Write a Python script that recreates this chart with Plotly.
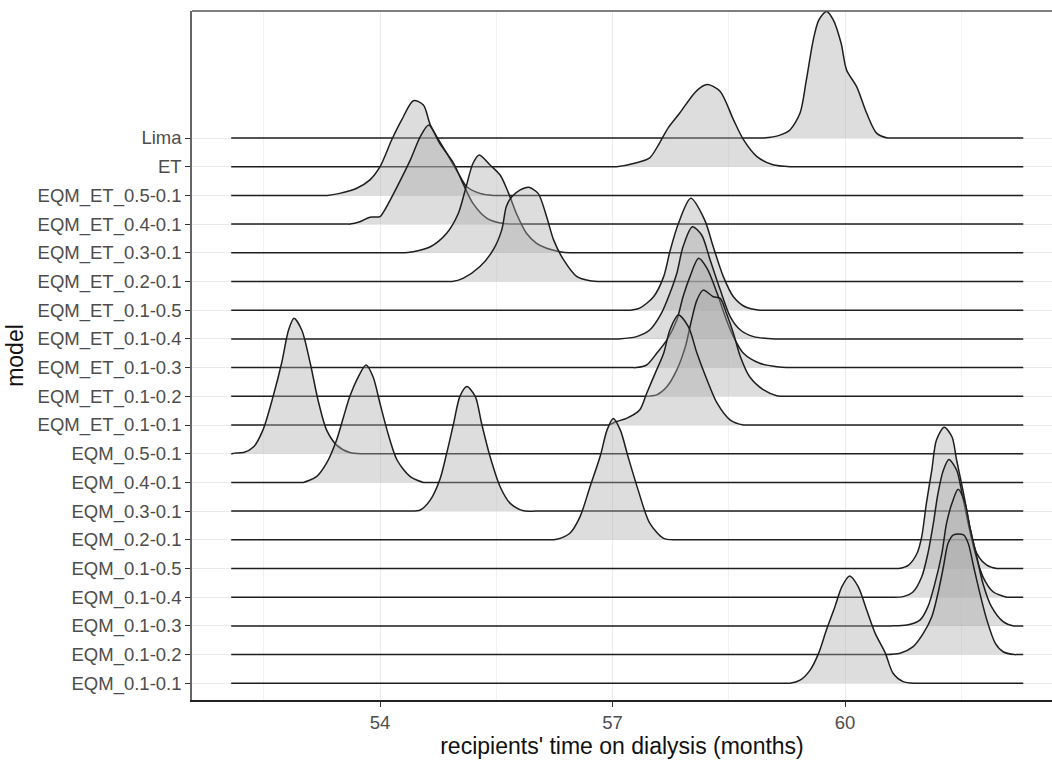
import plotly.graph_objects as go

# ---------------- data ----------------
# model names, top row first
models = ["Lima", "ET", "EQM_ET_0.5-0.1", "EQM_ET_0.4-0.1", "EQM_ET_0.3-0.1",
          "EQM_ET_0.2-0.1", "EQM_ET_0.1-0.5", "EQM_ET_0.1-0.4", "EQM_ET_0.1-0.3",
          "EQM_ET_0.1-0.2", "EQM_ET_0.1-0.1", "EQM_0.5-0.1", "EQM_0.4-0.1",
          "EQM_0.3-0.1", "EQM_0.2-0.1", "EQM_0.1-0.5", "EQM_0.1-0.4",
          "EQM_0.1-0.3", "EQM_0.1-0.2", "EQM_0.1-0.1"]

# common range of the density lines (months)
X_MIN = 52.08
X_MAX = 62.30

# density heights (in units of row spacing) at x positions (months)
lima_x = [58.95, 59.16, 59.29, 59.42, 59.50, 59.59, 59.66, 59.76, 59.85, 59.95, 60.02, 60.15, 60.28, 60.41, 60.55]
lima_h = [0, 0.10, 0.28, 0.87, 2.0, 3.41, 4.10, 4.41, 4.11, 3.3, 2.37, 1.79, 0.86, 0.16, 0]

et_x = [57.05, 57.31, 57.48, 57.61, 57.72, 57.87, 58.04, 58.13, 58.23, 58.39, 58.56, 58.69, 58.86, 59.07, 59.30]
et_h = [0, 0.14, 0.31, 0.84, 1.36, 1.88, 2.51, 2.75, 2.86, 2.62, 1.64, 0.94, 0.36, 0.07, 0]

et05_x = [53.32, 53.48, 53.70, 53.87, 54.00, 54.15, 54.28, 54.43, 54.56, 54.65, 54.86, 55.01, 55.12, 55.29, 55.46]
et05_h = [0, 0.07, 0.25, 0.54, 1.00, 1.93, 2.63, 3.30, 3.15, 2.45, 1.47, 0.77, 0.30, 0.07, 0]

et04_x = [53.61, 53.74, 53.87, 54.00, 54.06, 54.22, 54.39, 54.52, 54.63, 54.77, 54.95, 55.07, 55.20, 55.38, 55.59, 55.75]
et04_h = [0, 0.08, 0.24, 0.26, 0.49, 1.30, 2.23, 3.05, 3.45, 2.81, 2.12, 1.42, 0.72, 0.20, 0.02, 0]

et03_x = [54.26, 54.43, 54.65, 54.86, 55.01, 55.10, 55.20, 55.28, 55.42, 55.55, 55.66, 55.76, 55.89, 56.02, 56.15, 56.32, 56.45]
et03_h = [0, 0.04, 0.21, 0.68, 1.37, 2.19, 3.12, 3.41, 3.06, 2.71, 2.07, 1.37, 0.68, 0.33, 0.16, 0.04, 0]

et02_x = [54.93, 55.07, 55.29, 55.46, 55.57, 55.63, 55.70, 55.81, 55.92, 56.04, 56.15, 56.24, 56.37, 56.54, 56.71, 56.88]
et02_h = [0, 0.11, 0.52, 1.10, 1.79, 2.61, 2.95, 3.19, 3.28, 3.07, 2.26, 1.45, 0.75, 0.17, 0.03, 0]

et15_x = [57.23, 57.35, 57.53, 57.66, 57.74, 57.85, 58.01, 58.19, 58.30, 58.43, 58.56, 58.71, 58.90]
et15_h = [0, 0.07, 0.47, 1.17, 2.04, 3.02, 3.90, 3.14, 2.21, 1.17, 0.47, 0.12, 0]

et14_x = [57.08, 57.31, 57.48, 57.63, 57.74, 57.83, 57.91, 58.03, 58.15, 58.26, 58.39, 58.52, 58.65, 58.82, 59.10]
et14_h = [0, 0.08, 0.31, 0.89, 1.59, 2.29, 3.21, 3.91, 3.62, 2.75, 1.71, 0.77, 0.31, 0.08, 0]

et13_x = [57.30, 57.44, 57.57, 57.70, 57.83, 57.91, 58.00, 58.11, 58.22, 58.35, 58.47, 58.56, 58.69, 58.90, 59.12, 59.30]
et13_h = [0, 0.09, 0.50, 0.96, 1.66, 2.47, 3.17, 3.81, 3.46, 2.59, 1.66, 1.08, 0.50, 0.15, 0.03, 0]

et12_x = [57.40, 57.57, 57.70, 57.83, 57.94, 58.02, 58.09, 58.17, 58.30, 58.39, 58.47, 58.56, 58.65, 58.77, 58.95, 59.12, 59.30]
et12_h = [0, 0.05, 0.33, 0.92, 1.73, 2.66, 3.36, 3.70, 3.47, 3.41, 2.89, 2.20, 1.38, 0.68, 0.22, 0.02, 0]

et11_x = [56.95, 57.05, 57.18, 57.35, 57.44, 57.55, 57.66, 57.74, 57.85, 57.98, 58.09, 58.22, 58.35, 58.52, 58.69]
et11_h = [0, 0.12, 0.23, 0.52, 1.10, 1.80, 2.50, 3.31, 3.83, 3.42, 2.50, 1.57, 0.76, 0.17, 0]

eqm05_x = [52.12, 52.24, 52.37, 52.49, 52.62, 52.73, 52.82, 52.89, 52.99, 53.10, 53.20, 53.31, 53.44, 53.61, 53.77]
eqm05_h = [0.02, 0.04, 0.24, 0.83, 1.99, 3.15, 4.31, 4.72, 4.31, 3.15, 1.87, 0.83, 0.30, 0.04, 0]

eqm04_x = [53.01, 53.18, 53.31, 53.44, 53.53, 53.61, 53.72, 53.82, 53.91, 54.00, 54.09, 54.22, 54.39, 54.56]
eqm04_h = [0, 0.20, 0.67, 1.48, 2.29, 2.99, 3.68, 4.09, 3.68, 2.75, 1.83, 0.78, 0.20, 0]

eqm03_x = [54.39, 54.52, 54.65, 54.77, 54.86, 54.95, 55.03, 55.12, 55.23, 55.31, 55.42, 55.55, 55.68, 55.85, 56.00]
eqm03_h = [0, 0.04, 0.39, 1.08, 2.01, 3.06, 3.99, 4.34, 3.99, 3.06, 1.90, 0.85, 0.27, 0.01, 0]

eqm02_x = [56.15, 56.28, 56.45, 56.58, 56.71, 56.84, 56.93, 57.01, 57.10, 57.20, 57.33, 57.48, 57.66, 57.80]
eqm02_h = [0, 0.02, 0.23, 0.80, 1.85, 2.90, 3.83, 4.23, 3.83, 2.90, 1.74, 0.58, 0.05, 0]

eqm15_x = [60.69, 60.82, 60.93, 60.99, 61.05, 61.12, 61.18, 61.28, 61.38, 61.44, 61.53, 61.61, 61.70, 61.83, 61.96]
eqm15_h = [0, 0.12, 0.53, 1.11, 2.27, 3.43, 4.48, 4.92, 4.59, 3.78, 2.62, 1.46, 0.53, 0.12, 0]

eqm14_x = [60.60, 60.75, 60.88, 60.99, 61.07, 61.14, 61.20, 61.27, 61.34, 61.44, 61.51, 61.59, 61.68, 61.78, 61.91, 62.09]
eqm14_h = [0, 0.02, 0.19, 0.71, 1.53, 2.57, 3.62, 4.43, 4.80, 4.43, 3.62, 2.57, 1.53, 0.71, 0.19, 0]

eqm13_x = [60.60, 60.80, 60.97, 61.07, 61.16, 61.25, 61.31, 61.38, 61.46, 61.55, 61.61, 61.70, 61.78, 61.89, 62.04, 62.18]
eqm13_h = [0, 0.03, 0.21, 0.67, 1.48, 2.53, 3.57, 4.27, 4.76, 4.27, 3.46, 2.41, 1.48, 0.67, 0.15, 0]

eqm12_x = [60.50, 60.71, 60.88, 61.01, 61.12, 61.20, 61.27, 61.33, 61.40, 61.53, 61.59, 61.66, 61.74, 61.83, 61.94, 62.04, 62.19]
eqm12_h = [0, 0.05, 0.28, 0.74, 1.32, 2.14, 3.06, 3.88, 4.17, 4.17, 3.88, 3.06, 2.14, 1.21, 0.39, 0.10, 0]

eqm11_x = [59.29, 59.42, 59.55, 59.66, 59.76, 59.87, 59.96, 60.06, 60.17, 60.28, 60.39, 60.52, 60.62, 60.75, 60.90]
eqm11_h = [0, 0.11, 0.46, 1.05, 1.86, 2.67, 3.37, 3.74, 3.37, 2.55, 1.74, 1.05, 0.35, 0.06, 0]

x_ticks = [54, 57, 60]
x_minor = [52.5, 55.5, 58.5, 61.5]

curves = [(lima_x, lima_h), (et_x, et_h), (et05_x, et05_h), (et04_x, et04_h),
          (et03_x, et03_h), (et02_x, et02_h), (et15_x, et15_h), (et14_x, et14_h),
          (et13_x, et13_h), (et12_x, et12_h), (et11_x, et11_h), (eqm05_x, eqm05_h),
          (eqm04_x, eqm04_h), (eqm03_x, eqm03_h), (eqm02_x, eqm02_h), (eqm15_x, eqm15_h),
          (eqm14_x, eqm14_h), (eqm13_x, eqm13_h), (eqm12_x, eqm12_h), (eqm11_x, eqm11_h)]

# ---------------- figure ----------------
n = len(models)
positions = [n - i for i in range(n)]  # Lima at top
PAD = 0.03  # flat joint so the spline stays on the baseline

fig = go.Figure()
for name, pos, (cx, ch) in zip(models, positions, curves):
    xs, hs = [X_MIN], [0.0]
    if cx[0] - PAD > X_MIN:
        xs.append(cx[0] - PAD); hs.append(0.0)
    xs += list(cx); hs += list(ch)
    if cx[-1] + PAD < X_MAX:
        xs.append(cx[-1] + PAD); hs.append(0.0)
    if cx[-1] < X_MAX:
        xs.append(X_MAX); hs.append(0.0)
    ys = [pos + h for h in hs]
    fig.add_trace(go.Scatter(
        x=xs, y=ys, mode="lines", name=name,
        line=dict(color="#1e1e1e", width=1.5, shape="spline", smoothing=0.8),
        fill="toself", fillcolor="rgba(170,170,170,0.40)",
        hoverinfo="skip", showlegend=False))

FONT = "Liberation Sans, Arial, sans-serif"

fig.update_layout(
    width=1052, height=761,
    margin=dict(l=192, r=0, t=11, b=61),
    paper_bgcolor="white", plot_bgcolor="white",
    font=dict(family=FONT, color="#4d4d4d", size=18.5),
    showlegend=False,
)

fig.update_xaxes(
    range=[51.574, 62.671],
    tickvals=x_ticks, ticktext=[str(v) for v in x_ticks],
    showgrid=True, gridcolor="#ebebeb", gridwidth=1.3,
    minor=dict(tickvals=x_minor, showgrid=True, gridcolor="#f2f2f2", gridwidth=1, ticks=""),
    zeroline=False,
    showline=True, linecolor="#222222", linewidth=1.5,
    ticks="outside", ticklen=5, tickwidth=1, tickcolor="#333333",
    tickfont=dict(family=FONT, size=18.5, color="#4d4d4d"),
    title=dict(text="recipients' time on dialysis (months)",
               font=dict(family=FONT, size=23, color="#111111"), standoff=6),
    automargin=False,
)

fig.update_yaxes(
    range=[0.418, 24.425],
    tickvals=positions, ticktext=models,
    showgrid=True, gridcolor="#ebebeb", gridwidth=1.3,
    zeroline=False,
    showline=True, linecolor="#666666", linewidth=1.5,
    ticks="outside", ticklen=5, tickwidth=1, tickcolor="#333333",
    tickfont=dict(family=FONT, size=18.5, color="#4d4d4d"),
    title=dict(text="model", font=dict(family=FONT, size=23, color="#111111"), standoff=8),
    automargin=False,
)

# top panel border
fig.add_shape(type="line", xref="paper", yref="paper", x0=0, x1=1, y0=1, y1=1,
              line=dict(color="#555555", width=1.5))

fig.write_html("out.html")
